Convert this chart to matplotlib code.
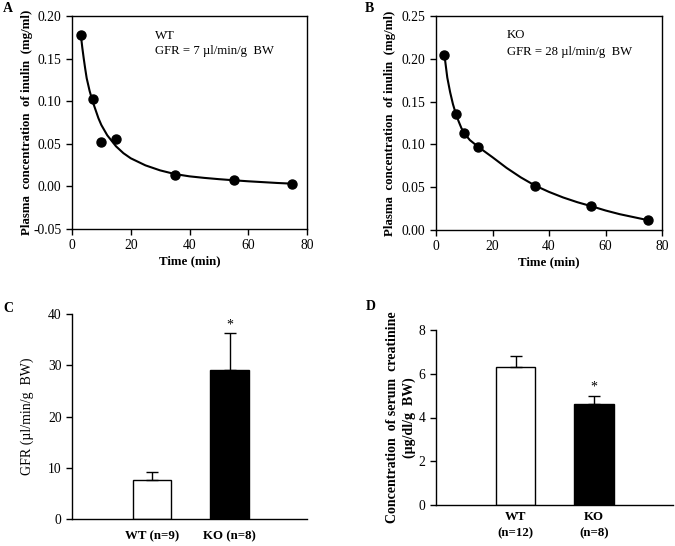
import matplotlib
matplotlib.use("Agg")
import matplotlib.pyplot as plt

plt.rcParams['font.family'] = ['Liberation Serif', 'DejaVu Serif']
plt.rcParams['font.size'] = 10

# Panel A (WT) data
time_pts = [3, 7, 10, 15, 35, 55, 75]
wt_conc = [0.178, 0.102, 0.052, 0.056, 0.013, 0.007, 0.003]
wt_curve_t = [3, 3.5, 4, 4.5, 5, 6, 7, 8, 9, 10, 12, 15, 17.5, 20, 25, 30, 35, 40, 45,
              50, 55, 60, 65, 70, 75]
wt_curve_c = [0.178, 0.163, 0.150, 0.138, 0.127, 0.112, 0.100, 0.090, 0.080, 0.072,
              0.060, 0.047, 0.039, 0.033, 0.0247, 0.0188, 0.0145, 0.0118, 0.010,
              0.0085, 0.0072, 0.006, 0.005, 0.004, 0.0032]

# Panel B (KO) data
ko_conc = [0.204, 0.136, 0.113, 0.0973, 0.0514, 0.0285, 0.0115]
ko_curve_t = [3, 4, 5, 6, 7, 8, 9, 10, 12, 15, 20, 25, 30, 35, 40, 45, 50, 55, 60, 65,
              70, 75]
ko_curve_c = [0.204, 0.178, 0.161, 0.147, 0.136, 0.127, 0.119, 0.113, 0.105, 0.097,
              0.085, 0.0725, 0.0615, 0.052, 0.0445, 0.038, 0.0325, 0.0278, 0.0228,
              0.0185, 0.015, 0.0115]

# Panel C
gfr_labels = ['WT (n=9)', 'KO (n=8)']
gfr_vals = [7.6, 29.0]
gfr_err = [1.6, 7.2]

# Panel D
cr_labels = ['WT\n(n=12)', 'KO\n(n=8)']
cr_vals = [6.3, 4.6]
cr_err = [0.5, 0.4]

fig = plt.figure(figsize=(6.75, 5.46), dpi=100)
W, H = 675, 546

def ax_px(l, t, r, b):
    return fig.add_axes([l / W, 1 - b / H, (r - l) / W, (b - t) / H])

def style_ticks(ax):
    ax.tick_params(direction='out', length=4, width=1, labelsize=9.8)
    for s in ax.spines.values():
        s.set_linewidth(1)

def place_ylabel(ax, xfrac):
    ax.yaxis.set_label_coords(xfrac, 0.5)
    ax.yaxis.label.set_verticalalignment('center')

LBL = 9.3
ANN = 9.2

# A
axA = ax_px(72, 16, 307, 229)
axA.plot(wt_curve_t, wt_curve_c, color='black', lw=1.5)
axA.plot(time_pts, wt_conc, 'o', color='black', ms=6.5)
axA.set_xlim(0, 80)
axA.set_ylim(-0.05, 0.20)
axA.set_xticks([0, 20, 40, 60, 80])
axA.set_yticks([-0.05, 0.0, 0.05, 0.10, 0.15, 0.20])
axA.set_yticklabels(['-0.05', '0.00', '0.05', '0.10', '0.15', '0.20'])
axA.set_xlabel('Time (min)', fontweight='bold', fontsize=LBL, labelpad=2)
axA.set_ylabel('Plasma  concentration  of inulin  (mg/ml)', fontweight='bold', fontsize=LBL)
place_ylabel(axA, -0.1915)
axA.text(0.353, 0.8906, 'WT', transform=axA.transAxes, fontsize=ANN, va='baseline')
axA.text(0.353, 0.8216, 'GFR = 7 µl/min/g  BW', transform=axA.transAxes, fontsize=ANN, va='baseline')
style_ticks(axA)

# B
axB = ax_px(436, 16, 662, 230)
axB.plot(ko_curve_t, ko_curve_c, color='black', lw=1.5)
axB.plot(time_pts, ko_conc, 'o', color='black', ms=6.5)
axB.set_xlim(0, 80)
axB.set_ylim(0, 0.25)
axB.set_xticks([0, 20, 40, 60, 80])
axB.set_yticks([0.0, 0.05, 0.10, 0.15, 0.20, 0.25])
axB.set_yticklabels(['0.00', '0.05', '0.10', '0.15', '0.20', '0.25'])
axB.set_xlabel('Time (min)', fontweight='bold', fontsize=LBL, labelpad=2)
axB.set_ylabel('Plasma  concentration  of inulin  (mg/ml)', fontweight='bold', fontsize=LBL)
place_ylabel(axB, -0.2035)
axB.text(0.313, 0.896, 'KO', transform=axB.transAxes, fontsize=ANN, va='baseline')
axB.text(0.313, 0.818, 'GFR = 28 µl/min/g  BW', transform=axB.transAxes, fontsize=ANN, va='baseline')
style_ticks(axB)

# C
axC = ax_px(72, 314, 307, 519)
xs = [1, 2]
axC.bar(xs, gfr_vals, width=0.5, color=['white', 'black'], edgecolor='black', linewidth=1)
axC.errorbar(xs, gfr_vals, yerr=[[0, 0], gfr_err], fmt='none', ecolor='black',
             elinewidth=1, capsize=4, capthick=1)
axC.text(2, gfr_vals[1] + gfr_err[1] + 0.3, '*', ha='center', va='bottom', fontsize=10)
axC.set_xlim(-0.03, 2.995)
axC.set_ylim(0, 40)
axC.set_yticks([0, 10, 20, 30, 40])
axC.set_xticks(xs)
axC.set_xticklabels(gfr_labels, fontweight='bold', fontsize=LBL)
axC.spines['top'].set_visible(False)
axC.spines['right'].set_visible(False)
axC.set_ylabel('GFR (µl/min/g  BW)', fontsize=10)
place_ylabel(axC, -0.1915)
style_ticks(axC)
axC.tick_params(axis='x', length=0, pad=8, labelsize=LBL)

# D
axD = ax_px(436, 330, 673, 505)
axD.bar(xs, cr_vals, width=0.5, color=['white', 'black'], edgecolor='black', linewidth=1)
axD.errorbar(xs, cr_vals, yerr=[[0, 0], cr_err], fmt='none', ecolor='black',
             elinewidth=1, capsize=4, capthick=1)
axD.text(2, cr_vals[1] + cr_err[1] + 0.08, '*', ha='center', va='bottom', fontsize=10)
axD.set_xlim(-0.013, 3.006)
axD.set_ylim(0, 8)
axD.set_yticks([0, 2, 4, 6, 8])
axD.set_xticks(xs)
axD.set_xticklabels(cr_labels, fontweight='bold', fontsize=LBL, linespacing=1.55)
axD.spines['top'].set_visible(False)
axD.spines['right'].set_visible(False)
axD.set_ylabel('Concentration  of serum  creatinine\n(µg/dl/g  BW)', fontweight='bold',
               fontsize=10, linespacing=1.25)
place_ylabel(axD, -0.1477)
style_ticks(axD)
axD.tick_params(axis='x', length=0, pad=4, labelsize=LBL)

# Panel letters
fig.text(3 / W, 1 - 8 / H, 'A', fontweight='bold', fontsize=10, va='center')
fig.text(365 / W, 1 - 8 / H, 'B', fontweight='bold', fontsize=10, va='center')
fig.text(3 / W, 1 - 308 / H, 'C', fontweight='bold', fontsize=10, va='center')
fig.text(366 / W, 1 - 306 / H, 'D', fontweight='bold', fontsize=10, va='center')

fig.savefig('out.png', dpi=100)
